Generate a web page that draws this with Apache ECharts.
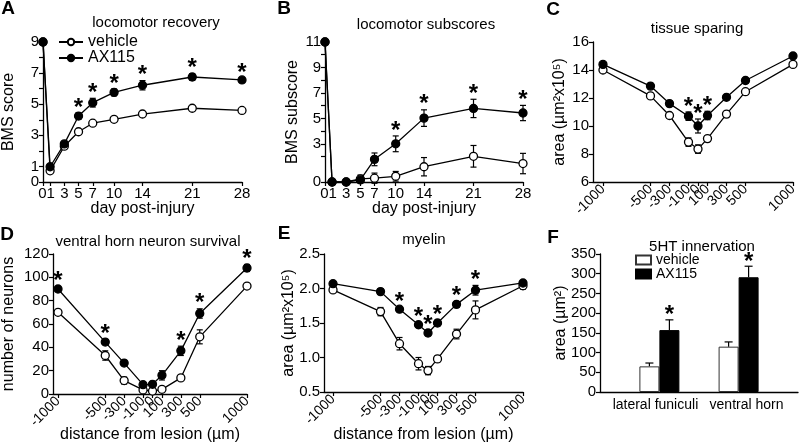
<!DOCTYPE html>
<html><head><meta charset="utf-8">
<script src="https://cdn.jsdelivr.net/npm/echarts@6/dist/echarts.min.js"></script>
<style>html,body{margin:0;padding:0;background:#fff}#c{width:800px;height:443px}</style>
</head><body><div id="c"></div>
<script>
// ---------- data ----------
// A: locomotor recovery
const daysA = [0, 1, 3, 5, 7, 10, 14, 21, 28];
const vehA = [9, 0.72, 2.3, 3.23, 3.78, 4.03, 4.37, 4.74, 4.6];
const vehAErr = [0, 0.1, 0.1, 0.1, 0.1, 0.1, 0.1, 0.15, 0.12];
const axA = [9, 0.98, 2.45, 4.24, 5.1, 5.76, 6.22, 6.75, 6.56];
const axAErr = [0, 0.12, 0.12, 0.2, 0.28, 0.22, 0.3, 0.22, 0.12];
const starA = [5, 7, 10, 14, 21, 28];
const yTicksA = [0, 1, 3, 5, 7, 9];
// B: locomotor subscores
const daysB = [0, 1, 3, 5, 7, 10, 14, 21, 28];
const vehB = [11, 0, 0, 0.24, 0.3, 0.45, 1.2, 2.02, 1.45];
const vehBErr = [0, 0, 0, 0.3, 0.4, 0.38, 0.72, 0.85, 0.8];
const axB = [11, 0, 0, 0.16, 1.78, 3.0, 5.02, 5.78, 5.42];
const axBErr = [0, 0, 0, 0.2, 0.5, 0.62, 0.65, 0.72, 0.6];
const starB = [10, 14, 21, 28];
const yTicksB = [0, 1, 3, 5, 7, 9, 11];
// day tick labels (days 0 and 1 share one label "01", as in the figure)
const dayLabelPos = [0.5, 3, 5, 7, 10, 14, 21, 28];
const dayLabels = ['01', '3', '5', '7', '10', '14', '21', '28'];
// distance categories (C, D, E)
const dist = [-1000, -500, -300, -100, 0, 100, 300, 500, 1000];
// C: tissue sparing
const vehC = [14.0, 12.15, 10.75, 8.85, 8.35, 9.1, 10.85, 12.45, 14.4];
const vehCErr = [0.1, 0.15, 0.1, 0.3, 0.3, 0.15, 0.1, 0.15, 0.1];
const axC = [14.4, 12.85, 11.6, 10.7, 10.0, 10.75, 12.05, 13.25, 15.0];
const axCErr = [0.1, 0.1, 0.1, 0.3, 0.5, 0.3, 0.15, 0.1, 0.1];
const starC = [-100, 0, 100];
// D: ventral horn neuron survival
const vehD = [70, 33, 11.5, 3.5, 2.5, 4, 13.8, 49, 92.5];
const vehDErr = [1, 4, 3, 1, 1, 1, 2, 6, 2];
const axD = [90, 44.5, 26.5, 8, 8.3, 16, 37, 69, 108];
const axDErr = [2, 2, 2, 2, 2, 4, 4, 4, 3];
const starD = [-1000, -500, 300, 500, 1000];
// E: myelin
const vehE = [1.98, 1.665, 1.2, 0.91, 0.81, 0.98, 1.34, 1.69, 2.04];
const vehEErr = [0.03, 0.06, 0.09, 0.09, 0.06, 0.04, 0.07, 0.13, 0.05];
const axE = [2.07, 1.955, 1.70, 1.475, 1.355, 1.5, 1.77, 1.975, 2.08];
const axEErr = [0.02, 0.04, 0.03, 0.03, 0.04, 0.04, 0.04, 0.07, 0.03];
const starE = [-300, -100, 0, 100, 300, 500];
// F: 5HT innervation
const catsF = ['lateral funiculi', 'ventral horn'];
const vehF = [65, 115];
const vehFErr = [8.5, 12];
const axF = [157, 291];
const axFErr = [26, 28];
const starF = ['lateral funiculi', 'ventral horn'];

// ---------- helpers ----------
const FONT = "'Liberation Sans', Arial, Helvetica, sans-serif";
const BLACK = '#000';
const xPosF = [3, 7];          // bar group centres on F's 0..10 axis
const labelPosF = [2.8, 7.4];  // label centres on F's axis

function lineSeries(name, xs, ys, idx, filled) {
  return {
    type: 'line', name: name, xAxisIndex: idx, yAxisIndex: idx,
    data: xs.map((x, i) => [x, ys[i]]),
    symbol: 'circle', symbolSize: 8, showSymbol: true,
    lineStyle: { color: BLACK, width: 1.3 },
    itemStyle: { color: filled ? BLACK : '#fff', borderColor: BLACK, borderWidth: 1.3 },
    z: filled ? 5 : 4, animation: false, emphasis: { disabled: true }, silent: true
  };
}
function errSeries(xs, ys, es, idx, capW, upOnly, dx) {
  return {
    type: 'custom', xAxisIndex: idx, yAxisIndex: idx, silent: true, z: 3, clip: false,
    encode: { x: 0, y: 1 }, animation: false,
    data: xs.map((x, i) => [x, ys[i], es[i]]),
    renderItem: function (params, api) {
      const x = api.value(0), y = api.value(1), e = api.value(2);
      if (!e) return null;
      const c = api.coord([x, y]);
      const t = api.coord([x, y + e]);
      const b = upOnly ? c : api.coord([x, y - e]);
      const px = c[0] + (dx || 0);
      const st = { stroke: BLACK, lineWidth: 1.2 };
      const ch = [
        { type: 'line', shape: { x1: px, y1: t[1], x2: px, y2: b[1] }, style: st },
        { type: 'line', shape: { x1: px - capW, y1: t[1], x2: px + capW, y2: t[1] }, style: st }
      ];
      if (!upOnly) ch.push({ type: 'line', shape: { x1: px - capW, y1: b[1], x2: px + capW, y2: b[1] }, style: st });
      return { type: 'group', children: ch };
    }
  };
}
function starSeries(xs, ys, es, starXs, idx, gap, dx, mapX) {
  return {
    type: 'custom', xAxisIndex: idx, yAxisIndex: idx, silent: true, z: 6, clip: false,
    encode: { x: 0, y: 1 }, animation: false,
    data: starXs.map(sx => { const i = xs.indexOf(sx); return [mapX ? mapX[i] : sx, ys[i] + es[i]]; }),
    renderItem: function (params, api) {
      const c = api.coord([api.value(0), api.value(1)]);
      return {
        type: 'text', x: c[0] + (dx || 0), y: c[1] - gap,
        style: { text: '*', font: 'bold 24px ' + FONT, fill: BLACK, align: 'center', verticalAlign: 'middle', textAlign: 'center', textVerticalAlign: 'middle' }
      };
    }
  };
}
function baseAxisStyle() {
  return {
    axisLine: { show: true, onZero: false, lineStyle: { color: BLACK, width: 1.3 } },
    splitLine: { show: false },
    nameMoveOverlap: false,
    nameTextStyle: { fontSize: 16, color: BLACK, fontFamily: FONT },
  };
}
function xAxisVal(idx, min, max, ticks, labelPos, labelText, rotate, name, nameGap, fs) {
  return Object.assign(baseAxisStyle(), {
    type: 'value', gridIndex: idx, min: min, max: max,
    axisTick: { show: true, customValues: ticks, length: 4, lineStyle: { color: BLACK, width: 1.2 } },
    axisLabel: { customValues: labelPos, rotate: rotate, fontSize: fs, color: BLACK, fontFamily: FONT,
      margin: rotate ? 5 : 4, showMinLabel: true, showMaxLabel: true, hideOverlap: false,
      formatter: v => { const i = labelPos.indexOf(v); return i >= 0 ? labelText[i] : String(v); } },
    name: name, nameLocation: 'middle', nameGap: nameGap
  });
}
function yAxisVal(idx, min, max, interval, labels, name, nameGap) {
  const lab = { fontSize: 15, color: BLACK, fontFamily: FONT, margin: 4, showMinLabel: true, showMaxLabel: true };
  if (labels) lab.customValues = labels;
  return Object.assign(baseAxisStyle(), {
    type: 'value', gridIndex: idx, min: min, max: max, interval: interval,
    axisTick: { show: true, length: 4, lineStyle: { color: BLACK, width: 1.2 } },
    axisLabel: lab,
    name: name, nameLocation: 'middle', nameGap: nameGap
  });
}

const grids = [
  { left: 43, top: 42, width: 199, height: 140 },
  { left: 325, top: 42, width: 198, height: 140 },
  { left: 593, top: 42, width: 200, height: 140 },
  { left: 53, top: 254, width: 194, height: 140 },
  { left: 324, top: 254, width: 199, height: 138 },
  { left: 600, top: 254, width: 198, height: 138 }
].map(g => Object.assign(g, { containLabel: false, outerBoundsMode: 'none' }));

const distLabels = dist.map(String);
const xAxes = [
  xAxisVal(0, 0, 28, daysA, dayLabelPos, dayLabels, 0, 'day post-injury', 19, 15),
  xAxisVal(1, 0, 28, daysB, dayLabelPos, dayLabels, 0, 'day post-injury', 19, 15),
  xAxisVal(2, -1105, 1000, dist, dist, distLabels, 45, '', 0, 14),
  xAxisVal(3, -1053, 1000, dist, dist, distLabels, 45, 'distance from lesion (µm)', 33, 14),
  xAxisVal(4, -1095, 1000, dist, dist, distLabels, 45, 'distance from lesion (µm)', 35, 14),
  Object.assign(baseAxisStyle(), {
    type: 'value', gridIndex: 5, min: 0, max: 10,
    axisTick: { show: false },
    axisLabel: { customValues: labelPosF, fontSize: 14, color: BLACK, fontFamily: FONT, margin: 6,
      formatter: v => catsF[v < 5 ? 0 : 1] }
  })
];
const yAxes = [
  yAxisVal(0, 0, 9, 1, yTicksA, 'BMS score', 26),
  yAxisVal(1, 0, 11, 1, yTicksB, 'BMS subscore', 24),
  yAxisVal(2, 6, 16, 2, null, 'area (µm²x10⁵)', 25),
  yAxisVal(3, 0, 120, 20, null, 'number of neurons', 36),
  yAxisVal(4, 0.5, 2.5, 0.5, null, 'area (µm²x10⁵)', 27),
  yAxisVal(5, 0, 350, 50, null, 'area (µm²)', 31)
];
yAxes[4].axisLabel.formatter = v => v.toFixed(1);

const series = [
  errSeries(daysA, vehA, vehAErr, 0, 3), errSeries(daysA, axA, axAErr, 0, 3),
  lineSeries('vehicle', daysA, vehA, 0, false), lineSeries('AX115', daysA, axA, 0, true),
  starSeries(daysA, axA, axAErr, starA, 0, 5),
  errSeries(daysB, vehB, vehBErr, 1, 3), errSeries(daysB, axB, axBErr, 1, 3),
  lineSeries('vehicle', daysB, vehB, 1, false), lineSeries('AX115', daysB, axB, 1, true),
  starSeries(daysB, axB, axBErr, starB, 1, 5),
  errSeries(dist, vehC, vehCErr, 2, 3), errSeries(dist, axC, axCErr, 2, 3),
  lineSeries('vehicle', dist, vehC, 2, false), lineSeries('AX115', dist, axC, 2, true),
  starSeries(dist, axC, axCErr, starC, 2, 5),
  errSeries(dist, vehD, vehDErr, 3, 3), errSeries(dist, axD, axDErr, 3, 3),
  lineSeries('vehicle', dist, vehD, 3, false), lineSeries('AX115', dist, axD, 3, true),
  starSeries(dist, axD, axDErr, starD, 3, 5),
  errSeries(dist, vehE, vehEErr, 4, 3), errSeries(dist, axE, axEErr, 4, 3),
  lineSeries('vehicle', dist, vehE, 4, false), lineSeries('AX115', dist, axE, 4, true),
  starSeries(dist, axE, axEErr, starE, 4, 5),
  {
    type: 'bar', name: 'vehicle (5HT)', xAxisIndex: 5, yAxisIndex: 5, barWidth: 20, barGap: '0%',
    data: xPosF.map((x, i) => [x, vehF[i]]), animation: false, silent: true, z: 2,
    itemStyle: { color: '#fff', borderColor: '#333', borderWidth: 1 }
  },
  {
    type: 'bar', name: 'AX115 (5HT)', xAxisIndex: 5, yAxisIndex: 5, barWidth: 20, barGap: '0%',
    data: xPosF.map((x, i) => [x, axF[i]]), animation: false, silent: true, z: 2,
    itemStyle: { color: '#000', borderColor: '#000', borderWidth: 1 }
  },
  errSeries(xPosF, vehF, vehFErr, 5, 4, true, -10),
  errSeries(xPosF, axF, axFErr, 5, 4, true, 10),
  starSeries(catsF, axF, axFErr, starF, 5, 4, 10, xPosF)
];

function txt(text, x, y, size, bold) {
  return { type: 'text', x: x, y: y, silent: true,
    style: { text: text, font: (bold ? 'bold ' : '') + size + 'px ' + FONT, fill: BLACK,
      align: 'center', verticalAlign: 'middle', textAlign: 'center', textVerticalAlign: 'middle' } };
}

const option = {
  backgroundColor: '#fff',
  animation: false,
  grid: grids, xAxis: xAxes, yAxis: yAxes, series: series,
  legend: [
    { data: ['vehicle', 'AX115'], orient: 'vertical', left: 58, top: 34, padding: 0, itemGap: 0,
      itemWidth: 24, itemHeight: 8, selectedMode: false,
      textStyle: { fontSize: 16, color: BLACK, fontFamily: FONT, lineHeight: 15 } },
    { data: ['vehicle (5HT)', 'AX115 (5HT)'], orient: 'vertical', left: 635, top: 253, padding: 0, itemGap: 0,
      itemWidth: 15, itemHeight: 9, icon: 'rect', selectedMode: false,
      formatter: n => n.replace(' (5HT)', ''),
      textStyle: { fontSize: 14, color: BLACK, fontFamily: FONT, lineHeight: 12 } }
  ],
  graphic: [
    txt('A', 8, 9, 19, true), txt('B', 284, 9, 19, true), txt('C', 553, 10, 19, true),
    txt('D', 7, 235, 19, true), txt('E', 284, 234, 19, true), txt('F', 553, 238, 19, true),
    txt('locomotor recovery', 156, 23, 15), txt('locomotor subscores', 426, 25, 15),
    txt('tissue sparing', 697, 29, 15), txt('ventral horn neuron survival', 148, 242, 15),
    txt('myelin', 424, 240, 15), txt('5HT innervation', 702, 247, 15)
  ]
};
const chart = echarts.init(document.getElementById('c'), null, { renderer: 'canvas', width: 800, height: 443 });
chart.setOption(option);
</script>
</body></html>
